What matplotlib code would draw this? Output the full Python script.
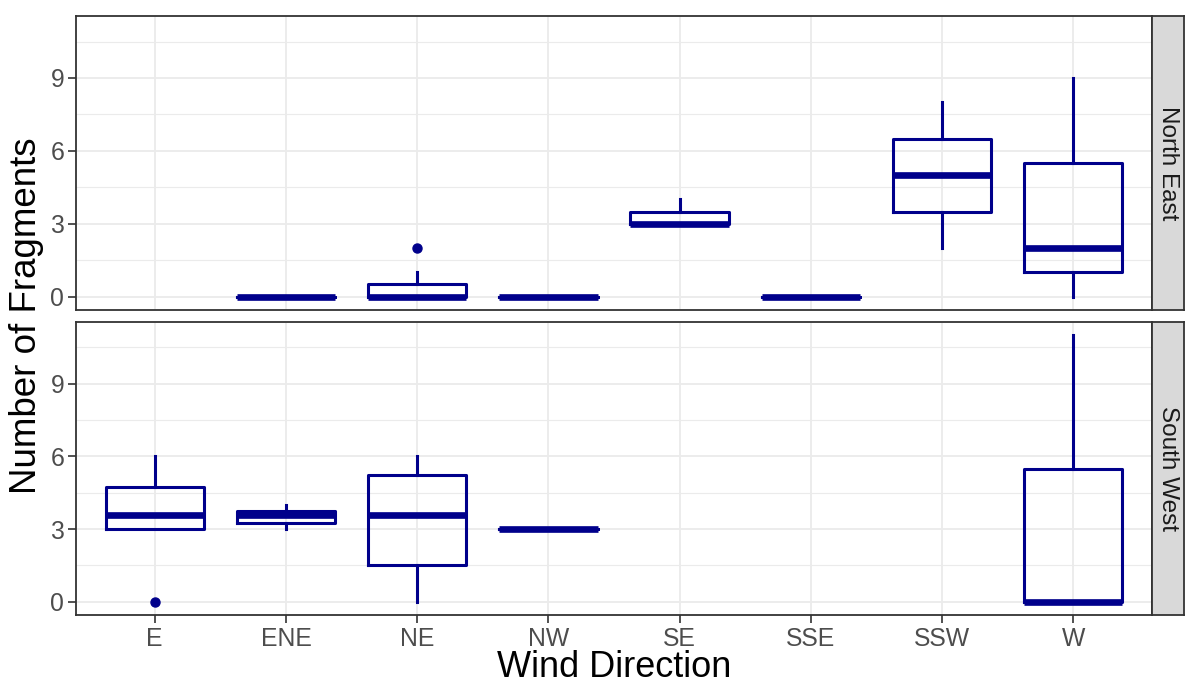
import matplotlib.pyplot as plt
from matplotlib.ticker import MultipleLocator

plt.rcParams['font.family'] = ['Liberation Sans', 'DejaVu Sans']

# 风向类别
directions = ['E', 'ENE', 'NE', 'NW', 'SE', 'SSE', 'SSW', 'W']

# North East 面板的箱线图统计量
ne_whislo = [None, 0, 0, 0, 3, 0, 2, 0]
ne_q1 = [None, 0, 0, 0, 3, 0, 3.5, 1]
ne_med = [None, 0, 0, 0, 3, 0, 5, 2]
ne_q3 = [None, 0, 0.5, 0, 3.5, 0, 6.5, 5.5]
ne_whishi = [None, 0, 1, 0, 4, 0, 8, 9]
ne_fliers = [[], [], [2], [], [], [], [], []]

# South West 面板的箱线图统计量
sw_whislo = [3, 3, 0, 3, None, None, None, 0]
sw_q1 = [3, 3.25, 1.5, 3, None, None, None, 0]
sw_med = [3.6, 3.6, 3.6, 3, None, None, None, 0]
sw_q3 = [4.75, 3.75, 5.25, 3, None, None, None, 5.5]
sw_whishi = [6, 4, 6, 3, None, None, None, 11]
sw_fliers = [[0], [], [], [], [], [], [], []]

navy = '#00008B'
grid_col = '#EBEBEB'
border_col = '#333333'


def build_stats(lo, q1, med, q3, hi, fliers):
    stats, pos = [], []
    for i in range(len(directions)):
        if med[i] is None:
            continue
        stats.append(dict(whislo=lo[i], q1=q1[i], med=med[i], q3=q3[i],
                          whishi=hi[i], fliers=fliers[i]))
        pos.append(i + 1)
    return stats, pos


def draw_panel(ax, strip_ax, stats, pos, label, show_x):
    ax.bxp(stats, positions=pos, widths=0.75, showcaps=False,
           boxprops=dict(color=navy, linewidth=2.2),
           whiskerprops=dict(color=navy, linewidth=2.2),
           medianprops=dict(color=navy, linewidth=4.8, solid_capstyle='butt'),
           flierprops=dict(marker='o', markerfacecolor=navy, markeredgecolor=navy,
                           markersize=6.5))
    ax.set_xlim(0.4, 8.6)
    ax.set_ylim(-0.55, 11.55)
    ax.set_xticks(range(1, len(directions) + 1))
    ax.set_xticklabels(directions)
    ax.yaxis.set_major_locator(MultipleLocator(3))
    ax.yaxis.set_minor_locator(MultipleLocator(1.5))
    ax.set_axisbelow(True)
    ax.grid(which='major', color=grid_col, linewidth=1.3)
    ax.grid(which='minor', axis='y', color=grid_col, linewidth=0.8)
    ax.tick_params(axis='y', which='minor', length=0)
    ax.tick_params(axis='both', which='major', labelsize=17.8, labelcolor='#4D4D4D',
                   color=border_col, length=5.5, width=1.2, pad=3)
    if not show_x:
        ax.tick_params(axis='x', length=0, labelbottom=False)
    for s in ax.spines.values():
        s.set_color(border_col)
        s.set_linewidth(1.3)

    # 右侧分面标签
    strip_ax.set_facecolor('#D9D9D9')
    strip_ax.set_xticks([])
    strip_ax.set_yticks([])
    for s in strip_ax.spines.values():
        s.set_color(border_col)
        s.set_linewidth(1.3)
    strip_ax.text(0.5, 0.5, label, rotation=-90, ha='center', va='center',
                  fontsize=17.5, color='#1A1A1A', transform=strip_ax.transAxes)


fig = plt.figure(figsize=(11.85, 6.86), dpi=100)
W, H = 1185, 686
left, right = 76 / W, 1152 / W
ax_top = fig.add_axes([left, 1 - 310 / H, right - left, (310 - 16) / H])
ax_bot = fig.add_axes([left, 1 - 615 / H, right - left, (615 - 322) / H])
strip_top = fig.add_axes([right, 1 - 310 / H, 1184 / W - right, (310 - 16) / H])
strip_bot = fig.add_axes([right, 1 - 615 / H, 1184 / W - right, (615 - 322) / H])

st, ps = build_stats(ne_whislo, ne_q1, ne_med, ne_q3, ne_whishi, ne_fliers)
draw_panel(ax_top, strip_top, st, ps, 'North East', False)
st, ps = build_stats(sw_whislo, sw_q1, sw_med, sw_q3, sw_whishi, sw_fliers)
draw_panel(ax_bot, strip_bot, st, ps, 'South West', True)

fig.text(27 / W, 1 - 316 / H, 'Number of Fragments', rotation=90, ha='center',
         va='center', fontsize=26.5)
fig.text((76 + 1152) / 2 / W, 1 - 677 / H, 'Wind Direction', ha='center',
         va='baseline', fontsize=26)

fig.savefig('out.png', dpi=100)
